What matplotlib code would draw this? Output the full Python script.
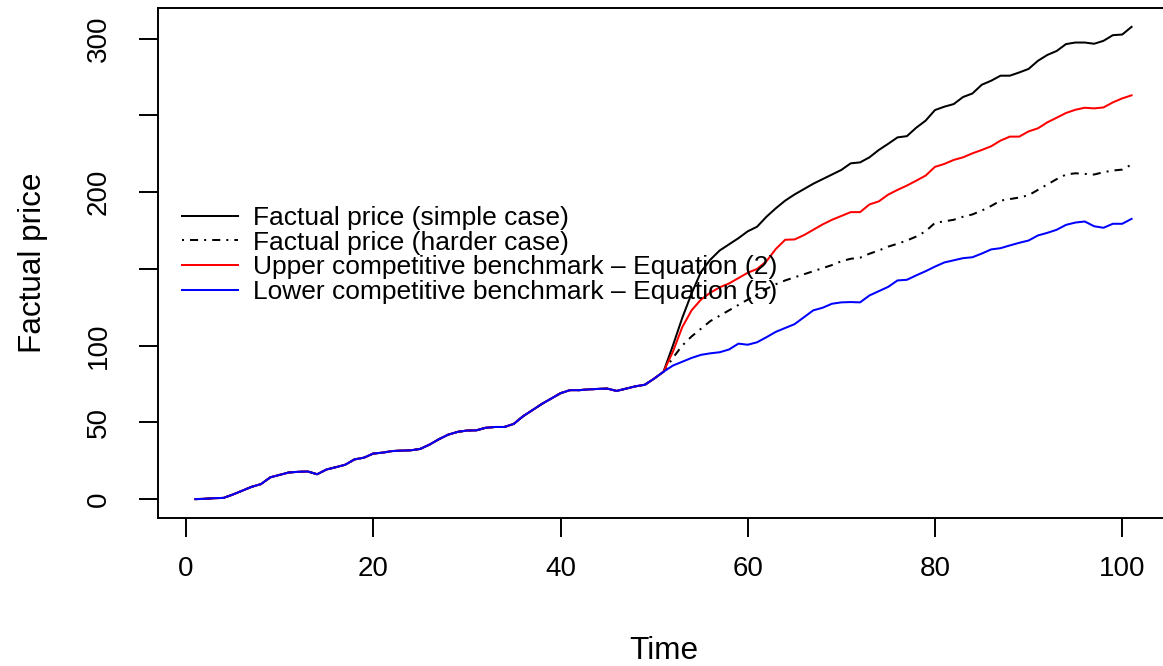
import matplotlib
matplotlib.use("Agg")
import matplotlib.pyplot as plt
import numpy as np

plt.rcParams['font.family'] = ['Liberation Sans', 'DejaVu Sans']

# ---- data ----
time = list(range(1, 102))

# identical path of all four series for t = 1..51
shared_path = [0.0, 0.2, 0.6, 0.8, 3.0, 5.5, 8.0, 9.8, 14.2, 15.8,
               17.4, 17.8, 18.0, 16.2, 19.3, 20.8, 22.4, 25.9, 27.0, 29.7,
               30.3, 31.3, 31.6, 31.8, 32.7, 35.5, 39.0, 42.0, 43.8, 44.7,
               44.8, 46.5, 47.0, 47.0, 49.0, 54.0, 58.0, 62.0, 65.5, 69.0,
               71.0, 71.0, 71.5, 71.8, 72.0, 70.5, 72.0, 73.5, 74.5, 78.5,
               83.0]

# t = 52..101
simple_tail = [100, 118, 134, 148, 156, 162, 166, 170, 174.5, 177.5,
               184, 189.5, 194.5, 198.5, 202, 205.5, 208.5, 211.5, 214.5, 218.8,
               219.4, 222.7, 227.5, 231.5, 235.7, 236.5, 242, 246.6, 253.5, 255.7,
               257.4, 262, 264.3, 270, 272.6, 275.9, 275.9, 278, 280.3, 285.6,
               289.4, 292, 296.5, 297.5, 297.5, 296.7, 298.6, 302.3, 302.7, 307.7]
harder_tail = [92, 100, 106, 111, 116, 119.5, 123, 126.5, 130, 133.5,
               137, 140, 142.5, 144.5, 146.5, 148.5, 150.5, 152.5, 155, 156.6,
               157.3, 159.9, 162, 164.5, 166.4, 168.5, 171.1, 174.5, 180, 181,
               182, 184, 185.5, 188, 191, 194.5, 195.5, 196.5, 198, 201.5,
               205, 208.5, 211.5, 212.3, 211.9, 211.5, 213, 214.1, 214.7, 218]
upper_tail = [96, 112, 123, 130, 134.5, 138, 140.5, 144, 147.5, 150,
              155, 163, 169, 169.2, 172, 175.5, 179, 182, 184.5, 187,
              187, 192, 194, 198.4, 201.5, 204.3, 207.5, 210.8, 216.5, 218.4,
              221, 222.7, 225.3, 227.5, 229.9, 233.6, 236.2, 236.2, 239.6, 241.6,
              245.5, 248.5, 251.6, 253.7, 255, 254.6, 255.2, 258.5, 261.1, 263.1]
lower_tail = [87, 89.5, 92, 94, 95, 95.7, 97.5, 101.3, 100.6, 102.2,
              105.5, 109, 111.5, 114, 118.5, 123, 124.7, 127.3, 128.2, 128.4,
              128.2, 132.7, 135.5, 138.3, 142.5, 142.9, 145.8, 148.5, 151.5, 154.2,
              155.6, 157, 157.6, 160, 162.7, 163.5, 165.3, 167, 168.5, 171.8,
              173.5, 175.5, 178.7, 180.2, 180.9, 177.8, 176.8, 179.4, 179.4, 182.6]

labels = ["Factual price (simple case)",
          "Factual price (harder case)",
          "Upper competitive benchmark \u2013 Equation (2)",
          "Lower competitive benchmark \u2013 Equation (5)"]

x_ticks = [0, 20, 40, 60, 80, 100]
y_ticks = [0, 50, 100, 150, 200, 250, 300]
y_tick_labels = ["0", "50", "100", "", "200", "", "300"]

simple = shared_path + simple_tail
harder = shared_path + harder_tail
upper = shared_path + upper_tail
lower = shared_path + lower_tail

# ---- figure ----
W, H = 1163, 666
fig = plt.figure(figsize=(W / 100, H / 100), dpi=100)
ax = fig.add_axes([158 / W, 148 / H, 1011 / W, 510 / H])

lw = 1.45
l1, = ax.plot(time, simple, color="black", lw=lw)
l2, = ax.plot(time, harder, color="black", lw=lw, dashes=(1, 3, 4, 3))
l3, = ax.plot(time, upper, color="red", lw=lw)
l4, = ax.plot(time, lower, color="blue", lw=lw)

ax.set_xlim(-3, 105)
ax.set_ylim(-12.3, 320.0)

ax.set_xticks(x_ticks)
ax.set_xticklabels([str(v) for v in x_ticks])
ax.set_yticks(y_ticks)
ax.set_yticklabels(y_tick_labels, rotation=90, va="center")

for s in ax.spines.values():
    s.set_linewidth(1.4)
    s.set_color("black")

ax.tick_params(direction="out", length=13.7, width=1.4, labelsize=20, colors="black")
ax.tick_params(axis="x", pad=14)
ax.tick_params(axis="y", pad=19.5)

ax.set_xlabel("Time", fontsize=22.7)
ax.set_ylabel("Factual price", fontsize=22.7)
ax.xaxis.set_label_coords(0.5, -0.232)
ax.yaxis.set_label_coords(-0.1089, 0.5)

ax.legend([l1, l2, l3, l4], labels, loc="center left",
          bbox_to_anchor=(182 / W, (H - 255) / H), bbox_transform=fig.transFigure,
          frameon=False, fontsize=19, handlelength=2.12, handletextpad=0.57,
          labelspacing=0.03, borderpad=0, borderaxespad=0)

fig.savefig("out.png", dpi=100)
